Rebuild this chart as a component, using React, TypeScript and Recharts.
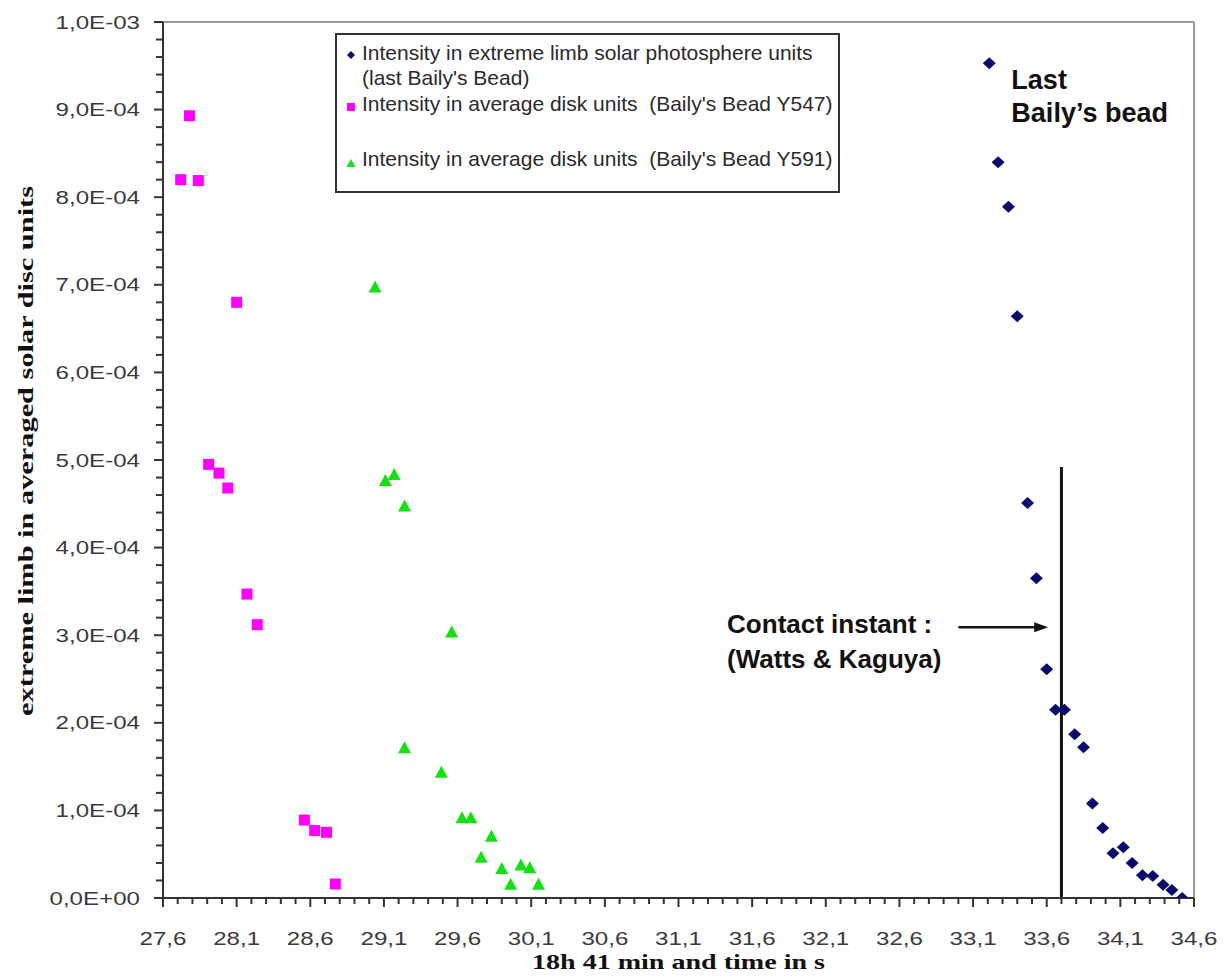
import { ScatterChart, Scatter, XAxis, YAxis, ReferenceLine, ReferenceDot, Legend } from "recharts";

// last Baily's bead, extreme limb units
const limbTimes = [33.21, 33.27, 33.34, 33.4, 33.47, 33.53, 33.6, 33.66, 33.72, 33.79, 33.85, 33.91, 33.98, 34.05, 34.12, 34.18, 34.25, 34.32, 34.39, 34.45, 34.52];
const limbIntensity = [9.53e-4, 8.4e-4, 7.89e-4, 6.64e-4, 4.51e-4, 3.65e-4, 2.61e-4, 2.15e-4, 2.15e-4, 1.87e-4, 1.72e-4, 1.08e-4, 0.8e-4, 0.51e-4, 0.58e-4, 0.4e-4, 0.26e-4, 0.25e-4, 0.15e-4, 0.09e-4, 0];

// bead Y547, average disk units
const y547Times = [27.72, 27.78, 27.84, 27.91, 27.98, 28.04, 28.1, 28.17, 28.24, 28.56, 28.63, 28.71, 28.77];
const y547Intensity = [8.2e-4, 8.93e-4, 8.19e-4, 4.95e-4, 4.85e-4, 4.68e-4, 6.8e-4, 3.47e-4, 3.12e-4, 0.89e-4, 0.77e-4, 0.75e-4, 0.16e-4];

// bead Y591, average disk units
const y591Times = [29.04, 29.11, 29.17, 29.24, 29.24, 29.49, 29.56, 29.63, 29.69, 29.76, 29.83, 29.9, 29.96, 30.03, 30.09, 30.15];
const y591Intensity = [6.97e-4, 4.76e-4, 4.83e-4, 4.47e-4, 1.71e-4, 1.43e-4, 3.03e-4, 0.91e-4, 0.91e-4, 0.46e-4, 0.7e-4, 0.33e-4, 0.15e-4, 0.37e-4, 0.34e-4, 0.15e-4];

const xTickLabels = ["27,6", "28,1", "28,6", "29,1", "29,6", "30,1", "30,6", "31,1", "31,6", "32,1", "32,6", "33,1", "33,6", "34,1", "34,6"];
const yTickLabels = ["0,0E+00", "1,0E-04", "2,0E-04", "3,0E-04", "4,0E-04", "5,0E-04", "6,0E-04", "7,0E-04", "8,0E-04", "9,0E-04", "1,0E-03"];

const legendLines = [
  ["Intensity in extreme limb solar photosphere units", "(last Baily's Bead)"],
  ["Intensity in average disk units  (Baily's Bead Y547)"],
  ["Intensity in average disk units  (Baily's Bead Y591)"],
];

const contactTime = 33.7;

const limbData = limbTimes.map((x, i) => ({ x, y: limbIntensity[i] }));
const y547Data = y547Times.map((x, i) => ({ x, y: y547Intensity[i] }));
const y591Data = y591Times.map((x, i) => ({ x, y: y591Intensity[i] }));

const xTicks = Array.from({ length: 71 }, (_, i) => Number((27.6 + i * 0.1).toFixed(1)));
const yTicks = Array.from({ length: 51 }, (_, i) => Number((i * 2e-5).toExponential(2)));

const NAVY = "#0a0a6e";
const PINK = "#ff00ff";
const GREEN = "#14e014";
const AXIS = "#333";
const SANS = "'Liberation Sans', Arial, sans-serif";
const SERIF = "'Liberation Serif', 'Times New Roman', serif";

const Diamond = ({ cx, cy }: any) => (
  <polygon points={`${cx},${cy - 6} ${cx + 6.5},${cy} ${cx},${cy + 6} ${cx - 6.5},${cy}`} fill={NAVY} />
);
const Square = ({ cx, cy }: any) => <rect x={cx - 5.5} y={cy - 5.5} width={11} height={11} fill={PINK} />;
const Triangle = ({ cx, cy }: any) => (
  <polygon points={`${cx},${cy - 7} ${cx + 6.5},${cy + 5} ${cx - 6.5},${cy + 5}`} fill={GREEN} />
);

function XTick({ x, y, index }: any) {
  const major = index % 5 === 0;
  return (
    <g>
      <line x1={x} x2={x} y1={y} y2={y + (major ? 9 : 6)} stroke={AXIS} strokeWidth={2} />
      {major && (
        <text transform={`translate(${x},${y + 47}) scale(1.34,1)`} textAnchor="middle" fontFamily={SANS} fontSize={18} fill="#3a3a3a">
          {xTickLabels[index / 5]}
        </text>
      )}
    </g>
  );
}

function YTick({ x, y, index }: any) {
  const major = index % 5 === 0;
  return (
    <g>
      <line x1={x} x2={x - (major ? 9 : 7)} y1={y} y2={y} stroke={AXIS} strokeWidth={2} />
      {major && (
        <text transform={`translate(${x - 23},${y + 6.5}) scale(1.34,1)`} textAnchor="end" fontFamily={SANS} fontSize={18} fill="#3a3a3a">
          {yTickLabels[index / 5]}
        </text>
      )}
    </g>
  );
}

function XTitle(props: any) {
  const { x, y, width } = props.viewBox;
  return (
    <text x={x + width / 2} y={y + 71} textAnchor="middle" fontFamily={SERIF} fontWeight="bold" fontSize={20} fill="#111" textLength={293} lengthAdjust="spacingAndGlyphs">
      18h 41 min and time in s
    </text>
  );
}

function YTitle(props: any) {
  const { x, y, height } = props.viewBox;
  const cx = x + 26;
  const cy = y + height / 2 - 9;
  return (
    <text x={cx} y={cy} transform={`rotate(-90, ${cx}, ${cy})`} textAnchor="middle" dominantBaseline="central" fontFamily={SERIF} fontWeight="bold" fontSize={20} fill="#111" textLength={530} lengthAdjust="spacingAndGlyphs">
      extreme limb in averaged solar disc units
    </text>
  );
}

function Arrow({ x1, y1, x2, y2 }: any) {
  return (
    <g>
      <line x1={x1} y1={y1} x2={x2 - 10} y2={y2} stroke="#111" strokeWidth={2.5} />
      <polygon points={`${x2},${y2} ${x2 - 14},${y2 - 5} ${x2 - 14},${y2 + 5}`} fill="#111" />
    </g>
  );
}

function TwoLines({ cx, cy, lines, size, gap }: any) {
  return (
    <g>
      {lines.map((t: string, i: number) => (
        <text key={i} x={cx} y={cy + i * gap} fontFamily={SANS} fontWeight="bold" fontSize={size} fill="#111">
          {t}
        </text>
      ))}
    </g>
  );
}

function LegendBox() {
  const textProps = { fontFamily: SANS, fontSize: 21, fill: "#2a2a2a", style: { whiteSpace: "pre" as const } };
  return (
    <div style={{ width: 505, height: 160, border: `2px solid ${AXIS}`, boxSizing: "border-box", background: "#fff" }}>
      <svg width={501} height={156} style={{ display: "block" }}>
        <polygon points="14,16 18,20 14,24 10,20" fill={NAVY} />
        <text x={25} y={25} {...textProps}>{legendLines[0][0]}</text>
        <text x={25} y={50} {...textProps}>{legendLines[0][1]}</text>
        <rect x={10} y={68} width={8} height={8} fill={PINK} />
        <text x={25} y={76} {...textProps}>{legendLines[1][0]}</text>
        <polygon points="14,124 18.5,132 9.5,132" fill={GREEN} />
        <text x={25} y={131} {...textProps}>{legendLines[2][0]}</text>
      </svg>
    </div>
  );
}

export default function App() {
  return (
    <div style={{ position: "absolute", left: 0, top: 0, width: 1226, height: 978, background: "#fff" }}>
      <ScatterChart width={1226} height={978} margin={{ top: 22, right: 32, left: 0, bottom: 0 }}>
        <XAxis
          dataKey="x"
          type="number"
          domain={[27.6, 34.6]}
          ticks={xTicks}
          interval={0}
          height={80}
          tickSize={0}
          tickMargin={0}
          tickLine={false}
          tick={<XTick />}
          axisLine={{ stroke: AXIS, strokeWidth: 2 }}
          allowDataOverflow
          label={(p: any) => <XTitle {...p} />}
        />
        <YAxis
          dataKey="y"
          type="number"
          domain={[0, 1e-3]}
          ticks={yTicks}
          interval={0}
          width={163}
          tickSize={0}
          tickMargin={0}
          tickLine={false}
          tick={<YTick />}
          axisLine={{ stroke: AXIS, strokeWidth: 2 }}
          allowDataOverflow
          label={(p: any) => <YTitle {...p} />}
        />
        <ReferenceLine y={1e-3} stroke="#9a9a9a" strokeWidth={2} />
        <ReferenceLine x={34.6} stroke="#9a9a9a" strokeWidth={2} />
        <Legend
          layout="vertical"
          align="center"
          verticalAlign="middle"
          wrapperStyle={{ top: 33, left: 335, width: 505, height: 160 }}
          content={() => <LegendBox />}
        />
        <Scatter name="limb" data={limbData} shape={(p: any) => <Diamond {...p} />} isAnimationActive={false} />
        <Scatter name="Y547" data={y547Data} shape={(p: any) => <Square {...p} />} isAnimationActive={false} />
        <Scatter name="Y591" data={y591Data} shape={(p: any) => <Triangle {...p} />} isAnimationActive={false} />
        <ReferenceLine
          segment={[{ x: contactTime, y: 0 }, { x: contactTime, y: 4.92e-4 }]}
          stroke="#111"
          strokeWidth={3}
        />
        <ReferenceLine
          segment={[{ x: 33.0, y: 3.09e-4 }, { x: 33.61, y: 3.09e-4 }]}
          shape={(p: any) => <Arrow {...p} />}
        />
        <ReferenceDot
          x={33.36}
          y={9.24e-4}
          r={0}
          shape={(p: any) => <TwoLines {...p} lines={["Last", "Baily\u2019s bead"]} size={27} gap={33} />}
        />
        <ReferenceDot
          x={31.43}
          y={3.03e-4}
          r={0}
          shape={(p: any) => <TwoLines {...p} lines={["Contact instant :", "(Watts & Kaguya)"]} size={26} gap={35} />}
        />
      </ScatterChart>
    </div>
  );
}
